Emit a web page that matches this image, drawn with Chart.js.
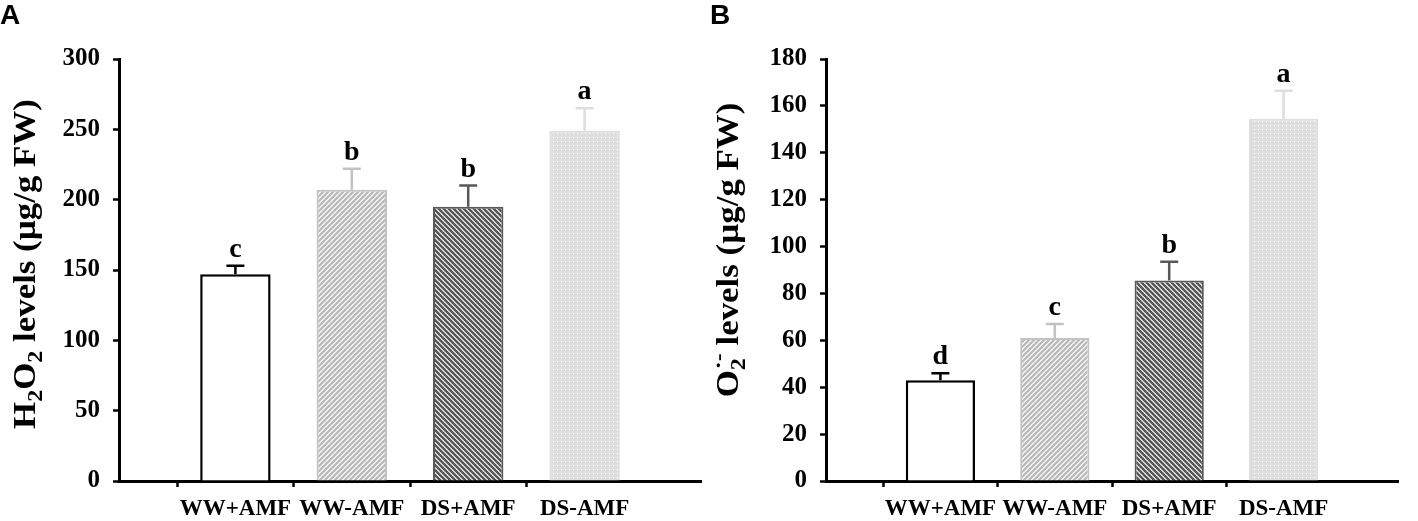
<!DOCTYPE html>
<html>
<head>
<meta charset="utf-8">
<script src="https://cdn.jsdelivr.net/npm/chart.js@4.4.1/dist/chart.umd.min.js"></script>
<style>
  html, body { margin: 0; padding: 0; background: #fff; }
  #wrap { position: relative; width: 1418px; height: 521px; overflow: hidden; }
  .panel { position: absolute; top: 0; width: 709px; height: 521px; }
  .panel canvas { display: block; }
  .tag { position: absolute; top: 1px; font: bold 28px "Liberation Sans", Arial, sans-serif; line-height: 27px; }
</style>
</head>
<body>
<div id="wrap">
  <div class="panel" style="left:0"><canvas id="chartA" width="709" height="521"></canvas></div>
  <div class="panel" style="left:709px"><canvas id="chartB" width="709" height="521"></canvas></div>
  <div class="tag" style="left:0">A</div>
  <div class="tag" style="left:710px">B</div>
</div>
<script>
// data
const categories = ['WW+AMF', 'WW-AMF', 'DS+AMF', 'DS-AMF'];

const h2o2Means = [147, 207, 195, 249];
const h2o2Errors = [6, 15, 15, 16];
const h2o2Letters = ['c', 'b', 'b', 'a'];
const h2o2Max = 300;
const h2o2Step = 50;

const o2Means = [43, 61, 85.5, 154.5];
const o2Errors = [3, 6, 8, 12];
const o2Letters = ['d', 'c', 'b', 'a'];
const o2Max = 180;
const o2Step = 20;

const SERIF = '"Liberation Serif", "Times New Roman", serif';

// fill patterns
function stripes(bg, fg, size, lw, forward) {
  const c = document.createElement('canvas');
  c.width = c.height = size;
  const g = c.getContext('2d');
  g.fillStyle = bg;
  g.fillRect(0, 0, size, size);
  g.strokeStyle = fg;
  g.lineWidth = lw;
  g.beginPath();
  if (forward) { // '/'
    g.moveTo(0, size); g.lineTo(size, 0);
    g.moveTo(-size / 2, size / 2); g.lineTo(size / 2, -size / 2);
    g.moveTo(size / 2, size * 1.5); g.lineTo(size * 1.5, size / 2);
  } else { // '\'
    g.moveTo(0, 0); g.lineTo(size, size);
    g.moveTo(-size / 2, size / 2); g.lineTo(size / 2, size * 1.5);
    g.moveTo(size / 2, -size / 2); g.lineTo(size * 1.5, size / 2);
  }
  g.stroke();
  return g.createPattern(c, 'repeat');
}

function dots(bg, fg, size) {
  const c = document.createElement('canvas');
  c.width = c.height = size;
  const g = c.getContext('2d');
  g.fillStyle = bg;
  g.fillRect(0, 0, size, size);
  g.fillStyle = fg;
  g.fillRect(1, 1, 1, 1);
  return g.createPattern(c, 'repeat');
}

const barFills = [
  '#ffffff',
  stripes('#ffffff', '#bababa', 5, 2.3, true),
  stripes('#ffffff', '#555555', 5, 2.4, false),
  dots('#dedede', '#ffffff', 4)
];
const barLines = ['#000000', '#c2c2c2', '#585858', '#dedede'];

// pad with empty slots so the axis runs past the first and last bar
const pad = arr => [null, ...arr, null];

// error bars + significance letters
const errorBarPlugin = {
  id: 'errorBars',
  afterDatasetsDraw(chart, args, opts) {
    const ctx = chart.ctx;
    const yScale = chart.scales.y;
    const ds = chart.data.datasets[0];
    chart.getDatasetMeta(0).data.forEach((bar, i) => {
      const v = ds.data[i];
      if (v == null) return;
      const top = yScale.getPixelForValue(v + opts.errors[i]);
      ctx.save();
      ctx.strokeStyle = opts.colors[i];
      ctx.lineWidth = 2.5;
      ctx.beginPath();
      ctx.moveTo(bar.x, bar.y);
      ctx.lineTo(bar.x, top);
      ctx.moveTo(bar.x - 9, top);
      ctx.lineTo(bar.x + 9, top);
      ctx.stroke();
      ctx.fillStyle = '#000';
      ctx.font = 'bold 28px ' + SERIF;
      ctx.textAlign = 'center';
      ctx.textBaseline = 'alphabetic';
      ctx.fillText(opts.letters[i], bar.x, top - 9);
      ctx.restore();
    });
  }
};

// y axis title with sub/superscripts
const yTitlePlugin = {
  id: 'yTitle',
  afterDraw(chart, args, opts) {
    const ctx = chart.ctx;
    const size = 32;
    const big = 'bold ' + size + 'px ' + SERIF;
    const small = 'bold ' + Math.round(size * 0.68) + 'px ' + SERIF;
    let total = 0;
    const widths = opts.parts.map(p => {
      ctx.font = p.sub || p.sup ? small : big;
      let w = ctx.measureText(p.t || p.sub || '').width;
      if (p.sup) w = Math.max(w, ctx.measureText(p.sup).width);
      total += w;
      return w;
    });
    ctx.save();
    ctx.translate(opts.x, opts.y);
    ctx.rotate(-Math.PI / 2);
    ctx.scale(opts.stretch, 1);
    ctx.fillStyle = '#000';
    ctx.textBaseline = 'alphabetic';
    ctx.textAlign = 'left';
    let x = -total / 2;
    opts.parts.forEach((p, i) => {
      if (p.t) {
        ctx.font = big;
        ctx.fillText(p.t, x, 0);
      } else {
        ctx.font = small;
        if (p.sub) ctx.fillText(p.sub, x, size * 0.22);
        if (p.sup) ctx.fillText(p.sup, x + 1, -size * 0.42);
      }
      x += widths[i];
    });
    ctx.restore();
  }
};

function makeChart(id, means, errors, letters, yMax, yStep, yWidth, padRight, title) {
  const ctx = document.getElementById(id).getContext('2d');
  return new Chart(ctx, {
    type: 'bar',
    data: {
      labels: ['', ...categories, ''],
      datasets: [{
        data: pad(means),
        backgroundColor: pad(barFills),
        borderColor: pad(barLines),
        borderWidth: [0, 2.5, 2, 2, 2, 0],
        borderSkipped: 'start',
        categoryPercentage: 1,
        barPercentage: 0.605
      }]
    },
    options: {
      responsive: false,
      animation: false,
      layout: { padding: { top: 59, right: padRight, left: 0, bottom: 0 } },
      plugins: {
        legend: { display: false },
        tooltip: { enabled: false },
        errorBars: { errors: pad(errors), letters: pad(letters), colors: pad(barLines) },
        yTitle: title
      },
      scales: {
        x: {
          offset: false,
          afterFit: s => { s.height = 40; },
          grid: {
            drawOnChartArea: false,
            tickLength: 6,
            tickWidth: 2.5,
            tickColor: c => (c.tick && c.tick.label) ? '#000' : 'rgba(0,0,0,0)'
          },
          border: { color: '#000', width: 3 },
          ticks: {
            autoSkip: false,
            maxRotation: 0,
            padding: 8,
            color: '#000',
            font: { family: SERIF, size: 23, weight: 'bold' }
          }
        },
        y: {
          min: 0,
          max: yMax,
          afterFit: s => { s.width = yWidth; },
          grid: { drawOnChartArea: false, tickLength: 6, tickWidth: 2.5, color: '#000' },
          border: { color: '#000', width: 3 },
          ticks: {
            stepSize: yStep,
            padding: 13,
            color: '#000',
            font: { family: SERIF, size: 25, weight: 'bold' }
          }
        }
      }
    },
    plugins: [errorBarPlugin, yTitlePlugin]
  });
}

makeChart('chartA', h2o2Means, h2o2Errors, h2o2Letters, h2o2Max, h2o2Step, 119, 3, {
  x: 35, y: 264, stretch: 1.09,
  parts: [{ t: 'H' }, { sub: '2' }, { t: 'O' }, { sub: '2' }, { t: ' levels (\u00b5g/g FW)' }]
});
makeChart('chartB', o2Means, o2Errors, o2Letters, o2Max, o2Step, 117, 20, {
  x: 29, y: 250, stretch: 1.09,
  parts: [{ t: 'O' }, { sub: '2', sup: '\u00b7-' }, { t: ' levels (\u00b5g/g FW)' }]
});
</script>
</body>
</html>
